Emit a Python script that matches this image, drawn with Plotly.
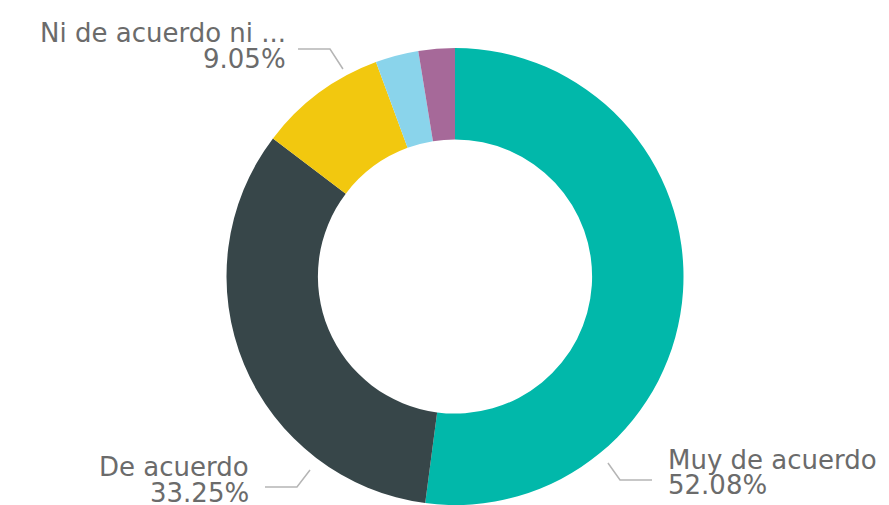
import plotly.graph_objects as go

categories = ["Muy de acuerdo", "De acuerdo", "Ni de acuerdo ni en desacuerdo", "En desacuerdo", "Muy en desacuerdo"]
values = [52.08, 33.25, 9.05, 3.05, 2.57]
colors = ["#01B8AA", "#374649", "#F2C80F", "#8AD4EB", "#A66999"]
label_names = ["Muy de acuerdo", "De acuerdo", "Ni de acuerdo ni ..."]

# page body has an 8px margin; work in figure pixel coordinates
OFF = 8
W, H = 889 - OFF, 505 - OFF

def px(x):
    return (x - OFF) / W

def py(y):
    return 1 - (y - OFF) / H

CX, CY, R = 455, 278, 230

fig = go.Figure()
fig.add_trace(go.Pie(
    labels=categories,
    values=values,
    sort=False,
    direction="clockwise",
    rotation=0,
    hole=0.6,
    marker=dict(colors=colors, line=dict(width=0)),
    textinfo="none",
    hoverinfo="label+percent",
    domain=dict(x=[px(CX - R), px(CX + R)], y=[max(0, py(CY + R)), py(CY - R)]),
    showlegend=False,
))

font = dict(family="DejaVu Sans", size=26, color="#6b6b6b")
pct = [f"{v:.2f}%" for v in values]

label_specs = [
    (label_names[0], pct[0], 666, 460, 485, "left"),
    (label_names[1], pct[1], 251, 467, 493, "right"),
    (label_names[2], pct[2], 288, 33, 59, "right"),
]
for name, p, x, yn, yp, anchor in label_specs:
    fig.add_annotation(text=name, x=px(x), y=py(yn), xref="paper", yref="paper",
                       xanchor=anchor, yanchor="middle", showarrow=False, font=font)
    fig.add_annotation(text=p, x=px(x), y=py(yp), xref="paper", yref="paper",
                       xanchor=anchor, yanchor="middle", showarrow=False, font=font)

leaders = [
    [(608, 463), (620, 480), (652, 480)],
    [(265, 487), (297, 487), (310, 470)],
    [(298, 49), (330, 49), (343, 69)],
]
for pts in leaders:
    path = "M " + " L ".join(f"{px(a):.4f},{py(b):.4f}" for a, b in pts)
    fig.add_shape(type="path", path=path, xref="paper", yref="paper",
                  line=dict(color="#b5b5b5", width=1.5))

fig.update_layout(
    width=W, height=H,
    margin=dict(l=0, r=0, t=0, b=0),
    paper_bgcolor="white",
    plot_bgcolor="white",
)

fig.write_html("out.html")
